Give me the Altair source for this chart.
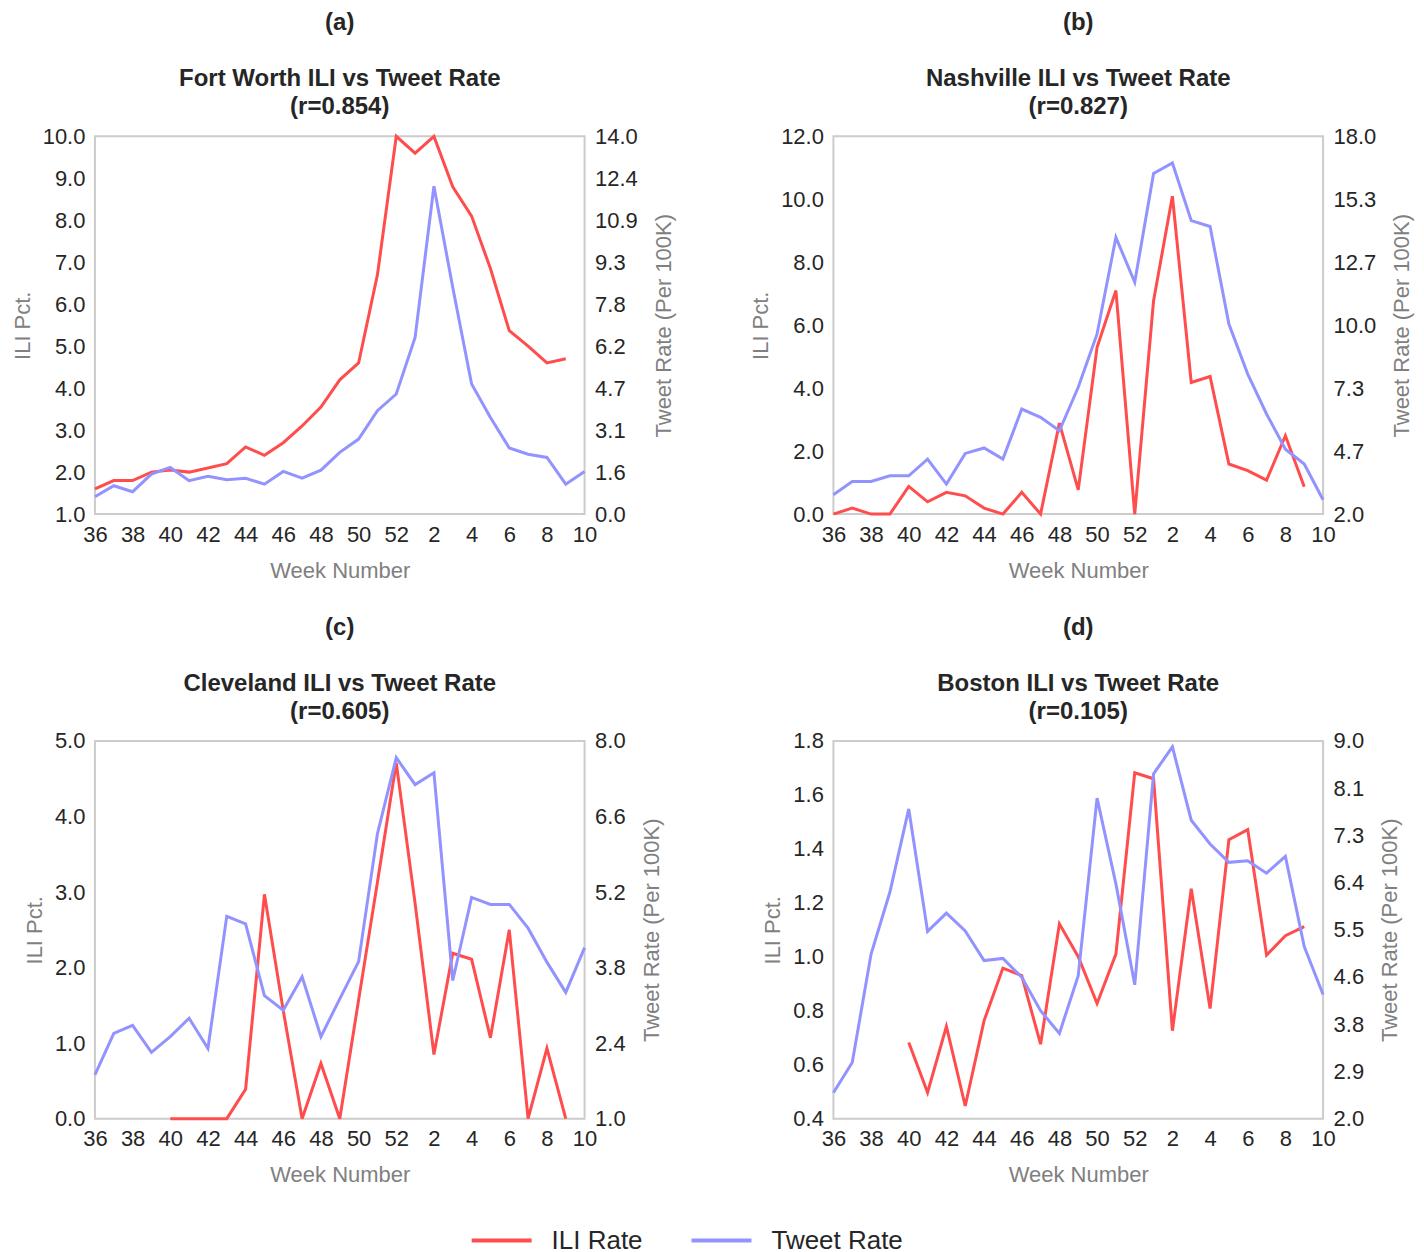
import altair as alt
import pandas as pd

FONT = "Liberation Sans"
RED = "#ff4d4d"
BLUE = "#9393ff"

weeks = list(range(36, 53)) + list(range(1, 11))
week_labels = weeks[::2]

# Fort Worth
fw_ili = [1.6, 1.8, 1.8, 2.0, 2.05, 2.0, 2.1, 2.2, 2.6, 2.4, 2.7, 3.1, 3.55, 4.2, 4.6, 6.7,
          10.0, 9.6, 10.0, 8.8, 8.1, 6.85, 5.37, 5.0, 4.6, 4.7]
fw_tweet = [0.64, 1.05, 0.83, 1.48, 1.73, 1.24, 1.40, 1.27, 1.33, 1.11, 1.58, 1.33, 1.63, 2.29,
            2.78, 3.83, 4.45, 6.55, 12.15, 8.4, 4.82, 3.58, 2.45, 2.22, 2.10, 1.11, 1.58]
# Nashville
na_ili = [0, 0.19, 0, 0, 0.88, 0.39, 0.69, 0.58, 0.19, 0, 0.69, 0, 2.89, 0.77, 5.3, 7.1,
          0, 6.78, 10.1, 4.18, 4.37, 1.59, 1.38, 1.08, 2.49, 0.87]
na_tweet = [2.82, 3.38, 3.38, 3.62, 3.62, 4.33, 3.27, 4.57, 4.80, 4.33, 6.45, 6.10, 5.53, 7.37,
            9.63, 13.72, 11.82, 16.43, 16.87, 14.43, 14.18, 10.05, 7.93, 6.24, 4.75, 4.12, 2.61]
# Cleveland
cl_ili = [None, None, None, None, 0, 0, 0, 0, 0.39, 2.97, 1.43, 0, 0.73, 0, 1.57, 3.13,
          4.71, 2.85, 0.85, 2.19, 2.11, 1.07, 2.50, 0, 0.93, 0]
cl_tweet = [1.81, 2.58, 2.73, 2.23, 2.52, 2.86, 2.30, 4.75, 4.61, 3.28, 3.01, 3.63, 2.52, 3.22,
            3.91, 6.28, 7.69, 7.19, 7.41, 3.56, 5.10, 4.97, 4.97, 4.53, 3.90, 3.34, 4.17]
# Boston
bo_ili = [None, None, None, None, 0.682, 0.497, 0.742, 0.447, 0.763, 0.958, 0.930, 0.676,
          1.122, 1.0, 0.827, 1.01, 1.682, 1.66, 0.726, 1.252, 0.808, 1.434, 1.471, 1.006,
          1.078, 1.112]
bo_tweet = [2.48, 3.04, 5.05, 6.20, 7.74, 5.47, 5.81, 5.48, 4.93, 4.97, 4.62, 4.0, 3.58, 4.65,
            7.94, 6.35, 4.48, 8.39, 8.89, 7.53, 7.09, 6.75, 6.78, 6.55, 6.86, 5.19, 4.30]

panels = [
    ("a", "Fort Worth", "0.854", fw_ili, fw_tweet, [1, 10], [1, 2, 3, 4, 5, 6, 7, 8, 9, 10], [0, 14], 10),
    ("b", "Nashville", "0.827", na_ili, na_tweet, [0, 12], [0, 2, 4, 6, 8, 10, 12], [2, 18], 7),
    ("c", "Cleveland", "0.605", cl_ili, cl_tweet, [0, 5], [0, 1, 2, 3, 4, 5], [1, 8], 6),
    ("d", "Boston", "0.105", bo_ili, bo_tweet, [0.4, 1.8], [0.4, 0.6, 0.8, 1.0, 1.2, 1.4, 1.6, 1.8], [2, 9], 9),
]

color_scale = alt.Scale(domain=["ILI Rate", "Tweet Rate"], range=[RED, BLUE])
label_expr = "[" + ",".join(str(w) for w in week_labels) + "][round(datum.value/2)]"


def make_panel(letter, city, r, ili, tweet, ili_dom, ili_ticks, tw_dom, tw_n):
    ili_df = pd.DataFrame([{"pos": i, "value": v, "series": "ILI Rate"}
                           for i, v in enumerate(ili) if v is not None])
    tw_df = pd.DataFrame([{"pos": i, "value": v, "series": "Tweet Rate"}
                          for i, v in enumerate(tweet)])
    tw_ticks = [tw_dom[0] + (tw_dom[1] - tw_dom[0]) * k / (tw_n - 1) for k in range(tw_n)]
    x = alt.X("pos:Q", scale=alt.Scale(domain=[0, 26], nice=False, zero=False),
              axis=alt.Axis(values=list(range(0, 27, 2)), labelExpr=label_expr,
                            labelFlush=False, labelOverlap=False,
                            title="Week Number", titlePadding=15))
    color = alt.Color("series:N", scale=color_scale,
                      legend=alt.Legend(title=None, orient="none", legendX=375, legendY=1073))
    ili_line = alt.Chart(ili_df).mark_line(strokeWidth=3).encode(
        x=x,
        y=alt.Y("value:Q", scale=alt.Scale(domain=ili_dom, nice=False, zero=False),
                axis=alt.Axis(values=ili_ticks, format=".1f", title="ILI Pct.", orient="left",
                              labelFlush=False, titlePadding=8)),
        color=color,
    )
    tw_line = alt.Chart(tw_df).mark_line(strokeWidth=3).encode(
        x=x,
        y=alt.Y("value:Q", scale=alt.Scale(domain=tw_dom, nice=False, zero=False),
                axis=alt.Axis(values=tw_ticks, format=".1f", title="Tweet Rate (Per 100K)",
                              orient="right", titleAngle=270, titleBaseline="top",
                              labelFlush=False, titlePadding=16)),
        color=color,
    )
    return alt.layer(ili_line, tw_line).resolve_scale(y="independent").properties(
        width=490, height=378,
        title=alt.Title(f"({letter})", subtitle=[f"{city} ILI vs Tweet Rate", f"(r={r})"],
                        font=FONT, fontSize=24, fontWeight="bold", color="#262626",
                        subtitleFont=FONT, subtitleFontSize=24, subtitleFontWeight="bold",
                        subtitleColor="#262626", subtitleLineHeight=28, subtitlePadding=32,
                        anchor="middle", offset=6),
    )


charts = [make_panel(*p) for p in panels]

chart = alt.concat(*charts, columns=2, spacing={"row": 33, "column": 73}).properties(
    padding=2
).configure_view(
    stroke="#cccccc", strokeWidth=2
).configure_axis(
    grid=False, ticks=False, domain=False,
    labelFont=FONT, labelFontSize=22, labelColor="#262626", labelPadding=10,
    titleFont=FONT, titleFontSize=22, titleColor="#808080", titleFontWeight="normal",
).configure_legend(
    direction="horizontal", symbolType="stroke", symbolSize=3600,
    symbolStrokeWidth=4, labelFont=FONT, labelFontSize=26, labelColor="#262626",
    labelOffset=18, columnPadding=40,
)

chart.save("out.html", embed_options={"renderer": "svg", "actions": False})
